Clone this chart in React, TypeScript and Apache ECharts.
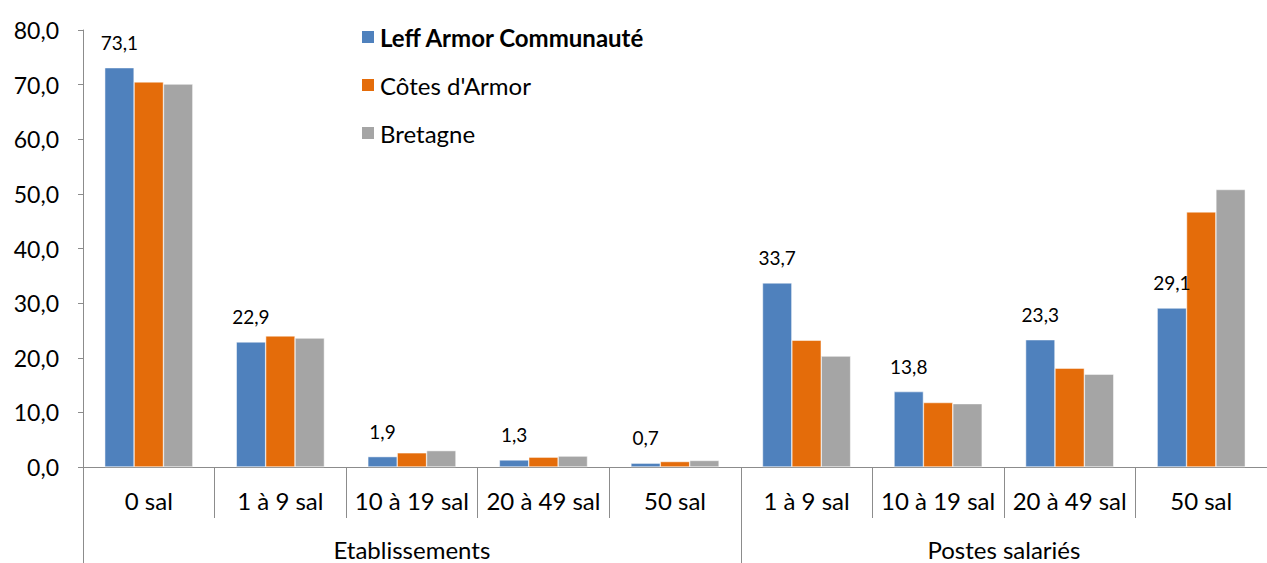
import React, { useEffect, useRef } from "react";
import * as echarts from "echarts";

const categories = ["0 sal", "1 à 9 sal", "10 à 19 sal", "20 à 49 sal", "50 sal", "1 à 9 sal", "10 à 19 sal", "20 à 49 sal", "50 sal"];
const groups = ["Etablissements", "Postes salariés"];
const groupSizes = [5, 4];
const seriesNames = ["Leff Armor Communauté", "Côtes d'Armor", "Bretagne"];
const leffValues = [73.1, 22.9, 1.9, 1.3, 0.7, 33.7, 13.8, 23.3, 29.1];
const cotesValues = [70.5, 24.0, 2.6, 1.8, 1.0, 23.2, 11.8, 18.1, 46.7];
const bretagneValues = [70.1, 23.6, 3.0, 2.0, 1.2, 20.3, 11.6, 17.0, 50.8];
const colors = ["#4F81BD", "#E46C0A", "#A5A5A5"];
const yTicks = { min: 0, max: 80, interval: 10 };

const FONT = "Lato";
const fmt = (v: number) => v.toFixed(1).replace(".", ",");

export default function App() {
  const ref = useRef<HTMLDivElement>(null);
  useEffect(() => {
    document.body.style.margin = "0";
    const chart = echarts.init(ref.current!, undefined, { renderer: "svg" });
    const total = groupSizes.reduce((a, b) => a + b, 0);
    const bounds: number[] = [0];
    const centers: number[] = [];
    let acc = 0;
    groupSizes.forEach((s) => {
      centers.push(acc + s / 2);
      acc += s;
      bounds.push(acc);
    });
    const allData = [leffValues, cotesValues, bretagneValues];
    chart.setOption({
      animation: false,
      textStyle: { fontFamily: FONT },
      grid: { left: 83, top: 30, width: 1194, height: 437, containLabel: false },
      legend: {
        orient: "vertical",
        left: 355,
        top: 20,
        itemGap: 24,
        itemWidth: 14,
        itemHeight: 14,
        icon: "rect",
        data: seriesNames,
        formatter: (name: string) => (name === seriesNames[0] ? `{b|${name}}` : `{n|${name}}`),
        textStyle: {
          fontFamily: FONT,
          fontSize: 24,
          lineHeight: 24,
          color: "#000",
          rich: {
            b: { fontFamily: FONT, fontSize: 24, lineHeight: 24, fontWeight: "bold", color: "#000" },
            n: { fontFamily: FONT, fontSize: 24, lineHeight: 24, color: "#000" },
          },
        },
      },
      xAxis: [
        {
          type: "category",
          data: categories,
          position: "bottom",
          axisLine: { show: true, lineStyle: { color: "#8C8C8C", width: 1 } },
          axisTick: { show: true, length: 51, interval: 0, lineStyle: { color: "#8C8C8C" } },
          axisLabel: { interval: 0, margin: 21, fontSize: 24, color: "#000", fontFamily: FONT },
        },
        {
          type: "value",
          min: 0,
          max: total,
          position: "bottom",
          offset: 51,
          axisLine: { show: false },
          splitLine: { show: false },
          axisTick: {
            show: true,
            length: 45,
            customValues: bounds.slice(0, -1),
            lineStyle: { color: "#8C8C8C" },
          },
          axisLabel: {
            margin: 19,
            fontSize: 24,
            lineHeight: 24,
            color: "#000",
            fontFamily: FONT,
            customValues: centers,
            formatter: (v: number) => {
              const i = centers.findIndex((c) => Math.abs(c - v) < 1e-6);
              return i >= 0 ? groups[i] : "";
            },
          },
        },
      ],
      yAxis: {
        type: "value",
        min: yTicks.min,
        max: yTicks.max,
        interval: yTicks.interval,
        axisLine: { show: true, lineStyle: { color: "#8C8C8C" } },
        axisTick: { show: true, length: 5, lineStyle: { color: "#8C8C8C" } },
        splitLine: { show: false },
        axisLabel: { formatter: (v: number) => fmt(v), fontSize: 23, color: "#000", margin: 24, fontFamily: FONT },
      },
      series: seriesNames.map((name, i) => ({
        name,
        type: "bar",
        xAxisIndex: 0,
        data: allData[i],
        barGap: "0%",
        barCategoryGap: "33%",
        itemStyle: { color: colors[i], borderColor: "#fff", borderWidth: 0.5 },
        label:
          i === 0
            ? {
                show: true,
                position: "top",
                distance: 16,
                formatter: (p: any) => fmt(p.value),
                fontSize: 19,
                color: "#000",
                fontFamily: FONT,
              }
            : { show: false },
      })),
    });
    return () => chart.dispose();
  }, []);
  return <div ref={ref} style={{ width: 1267, height: 563 }} />;
}
